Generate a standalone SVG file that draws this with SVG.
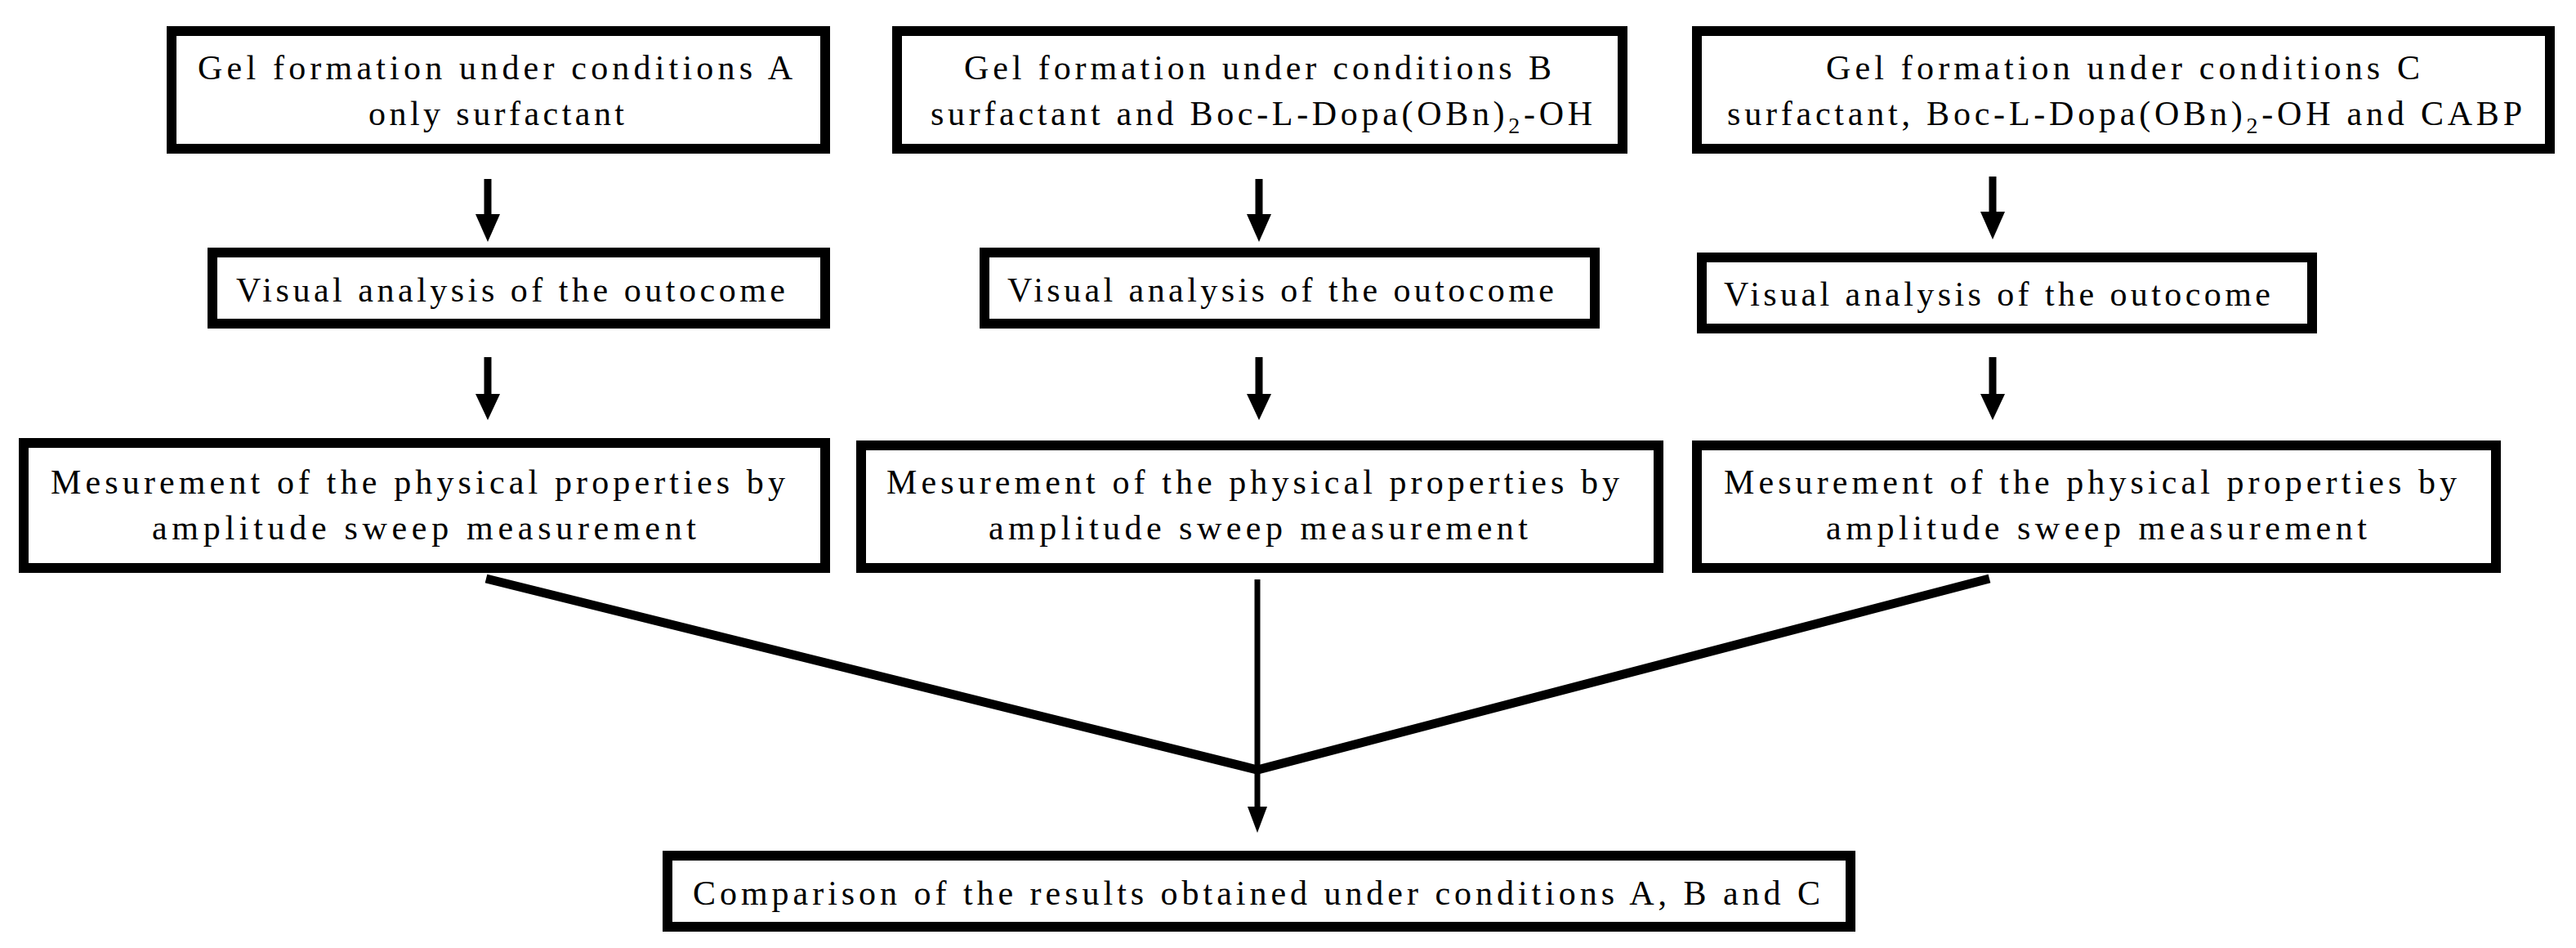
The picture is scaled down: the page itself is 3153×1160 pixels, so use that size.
<svg xmlns="http://www.w3.org/2000/svg" width="3153" height="1160" viewBox="0 0 3153 1160">
<style>
.box{fill:#fff;stroke:#000;stroke-width:12}
.t{font-family:"Liberation Serif","Times New Roman",serif;font-size:42px;fill:#000}
.sub{font-size:28px}
</style>
<defs>
<marker id="ah" viewBox="0 0 10 10" refX="10" refY="5" markerWidth="10" markerHeight="10" markerUnits="userSpaceOnUse" orient="auto"><path d="M0,0 L10,5 L0,10 Z"/></marker>
</defs>
<rect width="3153" height="1160" fill="#fff"/>
<g id="connectors">
<line x1="597" y1="219" x2="597" y2="265" stroke="#000" stroke-width="9"/><path d="M582,262 L612,262 L597,296 Z"/>
<line x1="597" y1="437" x2="597" y2="485" stroke="#000" stroke-width="9"/><path d="M582,482 L612,482 L597,514 Z"/>
<line x1="1541" y1="219" x2="1541" y2="265" stroke="#000" stroke-width="9"/><path d="M1526,262 L1556,262 L1541,296 Z"/>
<line x1="1541" y1="437" x2="1541" y2="485" stroke="#000" stroke-width="9"/><path d="M1526,482 L1556,482 L1541,514 Z"/>
<line x1="2439" y1="216" x2="2439" y2="262" stroke="#000" stroke-width="9"/><path d="M2424,259 L2454,259 L2439,293 Z"/>
<line x1="2439" y1="437" x2="2439" y2="485" stroke="#000" stroke-width="9"/><path d="M2424,482 L2454,482 L2439,514 Z"/>
<polyline points="595,708 1539,942 2435,708" fill="none" stroke="#000" stroke-width="11"/>
<line x1="1539" y1="709" x2="1539" y2="990" stroke="#000" stroke-width="7"/><path d="M1527,987 L1551,987 L1539,1019 Z"/>
</g>
<g id="top-a"><rect class="box" x="210" y="38" width="800" height="144"/>
<text class="t" x="242" y="97" textLength="728" lengthAdjust="spacing">Gel formation  under  conditions  A</text>
<text class="t" x="451" y="153" textLength="313" lengthAdjust="spacing">only surfactant</text></g>
<g id="top-b"><rect class="box" x="1098" y="38" width="888" height="144"/>
<text class="t" x="1180" y="97" textLength="719" lengthAdjust="spacing">Gel formation  under  conditions  B</text>
<text class="t" x="1139" y="153" textLength="810" lengthAdjust="spacing">surfactant  and Boc-L-Dopa(OBn)<tspan class="sub" dy="10">2</tspan><tspan dy="-10">-OH</tspan></text></g>
<g id="top-c"><rect class="box" x="2077" y="38" width="1044" height="144"/>
<text class="t" x="2235" y="97" textLength="727" lengthAdjust="spacing">Gel formation  under  conditions  C</text>
<text class="t" x="2114" y="153" textLength="973" lengthAdjust="spacing">surfactant,  Boc-L-Dopa(OBn)<tspan class="sub" dy="10">2</tspan><tspan dy="-10">-OH  and CABP</tspan></text></g>
<g id="visual-a"><rect class="box" x="260" y="309" width="750" height="87"/>
<text class="t" x="289" y="369" textLength="672" lengthAdjust="spacing">Visual  analysis  of the outocome</text></g>
<g id="visual-b"><rect class="box" x="1205" y="309" width="747" height="87"/>
<text class="t" x="1233" y="369" textLength="669" lengthAdjust="spacing">Visual  analysis  of the outocome</text></g>
<g id="visual-c"><rect class="box" x="2083" y="315" width="747" height="87"/>
<text class="t" x="2110" y="374" textLength="669" lengthAdjust="spacing">Visual  analysis  of the outocome</text></g>
<g id="meas-a"><rect class="box" x="29" y="542" width="981" height="153"/>
<text class="t" x="62" y="604" textLength="899" lengthAdjust="spacing">Mesurement  of the physical  properties  by</text>
<text class="t" x="186" y="660" textLength="666" lengthAdjust="spacing">amplitude  sweep  measurement</text></g>
<g id="meas-b"><rect class="box" x="1054" y="545" width="976" height="150"/>
<text class="t" x="1085" y="604" textLength="897" lengthAdjust="spacing">Mesurement  of the physical  properties  by</text>
<text class="t" x="1210" y="660" textLength="660" lengthAdjust="spacing">amplitude  sweep  measurement</text></g>
<g id="meas-c"><rect class="box" x="2077" y="545" width="978" height="150"/>
<text class="t" x="2110" y="604" textLength="897" lengthAdjust="spacing">Mesurement  of the physical  properties  by</text>
<text class="t" x="2235" y="660" textLength="662" lengthAdjust="spacing">amplitude  sweep  measurement</text></g>
<g id="compare"><rect class="box" x="817" y="1047" width="1448" height="87"/>
<text class="t" x="848" y="1107" textLength="1380" lengthAdjust="spacing">Comparison  of the results  obtained  under  conditions  A, B and C</text></g>
</svg>
